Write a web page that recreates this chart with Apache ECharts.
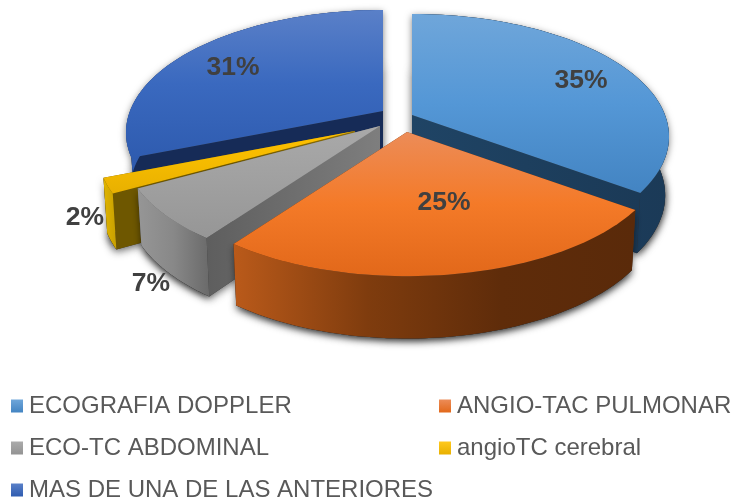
<!DOCTYPE html>
<html><head><meta charset="utf-8">
<style>html,body{margin:0;padding:0;background:#fff}#c{width:733px;height:504px}</style>
<script src="https://cdn.jsdelivr.net/npm/echarts@6/dist/echarts.min.js"></script>
</head><body><div id="c"></div>
<script>
const categories = ['ECOGRAFIA DOPPLER','ANGIO-TAC PULMONAR','ECO-TC ABDOMINAL','angioTC cerebral','MAS DE UNA DE LAS ANTERIORES'];
const percentages = [35, 25, 7, 2, 31];

// Styling and layout
const apexes = [[412,115],[407,132],[380,126],[355,131],[383,111]];
const depths = [58,58,55,54,58];
const labelAt = [[581,81],[444,203],[151,284],[85,218],[233,68]];
const drawOrder = [1,5,4,3,2];
const legendAt = [[11,394],[439,394],[11,436],[439,436],[11,478]];
const R = 253, KR = 118.8, P = 0.176, BASE = 0.985, BASE_Y = 1.03;
const v = (stops) => ({type:'linear',x:0,y:0,x2:0,y2:1,colorStops:stops.map((c,i)=>({offset:i/(stops.length-1),color:c}))});
const h = (stops) => ({type:'linear',x:0,y:0,x2:1,y2:0,colorStops:stops.map((c,i)=>({offset:i/(stops.length-1),color:c}))});
const topFill = [
  v(['#6FA6DA','#5497D6','#4384C2']),
  v(['#EC8C58','#F47A28','#E2681A']),
  v(['#A9A9A9','#A0A0A0','#969696']),
  v(['#FFC000','#F5BB00','#E8B000']),
  v(['#5A80C8','#3A69BF','#2F5CB0'])
];
const sideFill = [
  h(['#1F4163','#1C3D5E','#1B3A57']),
  h(['#BA5A1A','#7F3C0E','#5F2C0A','#5A2A0A']),
  h(['#969696','#888888','#6A6A6A']),
  h(['#E0B400','#C8A000']),
  h(['#2F5CB0','#2A54A4'])
];
const cutFill = [
  h(['#1F4465','#1B3A57']),
  h(['#5F2C0A','#5F2C0A']),
  h(['#5E5E5E','#6E6E6E','#7E7E7E']),
  h(['#6E5700','#6E5700','#8F7108']),
  h(['#162B57','#162B57'])
];
const legendFill = [
  v(['#6FA6DA','#4384C2']), v(['#EC8C58','#E2681A']), v(['#ABABAB','#939393']),
  v(['#FFC91E','#E8B000']), v(['#5A80C8','#2F5CB0'])
];

const total = percentages.reduce((a,b)=>a+b,0);
function angleRange(i){
  let s = 0;
  for (let k=0;k<i;k++) s += percentages[k];
  return [s/total*2*Math.PI, (s+percentages[i])/total*2*Math.PI];
}
function pt(a,th,depth){
  const u=Math.sin(th), w=Math.cos(th), d=1+P*w;
  return depth ? [a[0]+BASE*R*u/d, a[1]-BASE_Y*KR*w/d+depth] : [a[0]+R*u/d, a[1]-KR*w/d];
}
function arc(a,t0,t1,depth){
  const out=[]; const n=64;
  for(let i=0;i<=n;i++) out.push(pt(a,t0+(t1-t0)*i/n,depth));
  return out;
}
function makeRender(i){
  return function(){
    const a=apexes[i], r=angleRange(i), t0=r[0], t1=r[1], dp=depths[i];
    const topArc=arc(a,t0,t1,0), botArc=arc(a,t0,t1,dp), low=[a[0],a[1]+dp], high=[a[0],a[1]];
    const poly=(points,fill,extra)=>({type:'polygon',shape:{points},style:Object.assign({fill},extra||{}),silent:true});
    const children=[
      poly([low].concat(botArc),'#333333',{shadowBlur:9,shadowColor:'rgba(0,0,0,0.65)',shadowOffsetX:0,shadowOffsetY:2}),
      poly(topArc.concat(botArc.slice().reverse()),'#333333',{shadowBlur:7,shadowColor:'rgba(0,0,0,0.5)',shadowOffsetX:0,shadowOffsetY:2}),
      poly([high,topArc[64],botArc[64],low],cutFill[i]),
      poly([high,topArc[0],botArc[0],low],cutFill[i]),
      poly(topArc.concat(botArc.slice().reverse()),sideFill[i]),
      poly([high].concat(topArc),topFill[i]),
      {type:'text',silent:true,style:{text:percentages[i]+'%',x:labelAt[i][0],y:labelAt[i][1],align:'center',verticalAlign:'middle',
        fill:'#404040',font:'bold 26.5px "Liberation Sans", Arial, sans-serif'}}
    ];
    return {type:'group',children};
  };
}
const chart=echarts.init(document.getElementById('c'),null,{renderer:'canvas'});
chart.setOption({
  animation:false,
  backgroundColor:'#fff',
  legend:categories.map((name,i)=>({
    data:[name],left:legendAt[i][0],top:legendAt[i][1],padding:0,icon:'rect',itemWidth:12,itemHeight:13,
    selectedMode:false,
    textStyle:{fontSize:24,color:'#595959',fontFamily:'"Liberation Sans", Arial, sans-serif',padding:[0,0,0,1]}
  })),
  series:categories.map((name,i)=>({
    type:'custom',name,coordinateSystem:'none',z:drawOrder[i],
    itemStyle:{color:legendFill[i]},
    data:[[percentages[i]]],
    renderItem:makeRender(i)
  }))
});
</script></body></html>
